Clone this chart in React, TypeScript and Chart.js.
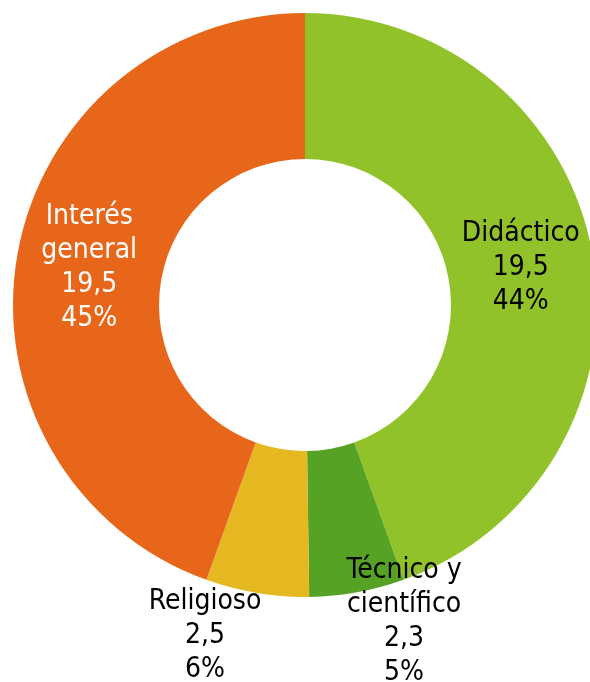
import React, { useEffect, useRef } from "react";
import { Chart, registerables } from "chart.js";

Chart.register(...registerables);

const categories: string[][] = [["Didáctico"], ["Técnico y", "científico"], ["Religioso"], ["Interés", "general"]];
const values: number[] = [19.5, 2.3, 2.5, 19.5];
const valueLabels: string[] = ["19,5", "2,3", "2,5", "19,5"];
const percentLabels: string[] = ["44%", "5%", "6%", "45%"];
const colors: string[] = ["#92C22A", "#55A225", "#E5B821", "#E8661A"];
const textColors: string[] = ["#000000", "#000000", "#000000", "#FFFFFF"];

// label placement: inside at mid ring, or outside with an offset from the outer arc midpoint
const placements = [
  { inside: true, dx: 0, dy: 0 },
  { inside: false, dx: 47, dy: 29 },
  { inside: false, dx: -52, dy: 43 },
  { inside: true, dx: 0, dy: 0 },
];

const labelPlugin = {
  id: "sliceLabels",
  afterDatasetsDraw(chart: any) {
    const ctx = chart.ctx;
    const meta = chart.getDatasetMeta(0);
    const fontSize = 28;
    const lineH = 34;
    ctx.save();
    ctx.font = `${fontSize}px "DejaVu Sans Condensed", "DejaVu Sans", sans-serif`;
    ctx.textAlign = "center";
    ctx.textBaseline = "middle";
    meta.data.forEach((arc: any, i: number) => {
      const p = arc.getProps(["x", "y", "startAngle", "endAngle", "innerRadius", "outerRadius"], true);
      const mid = (p.startAngle + p.endAngle) / 2;
      const pl = placements[i];
      let cx: number, cy: number;
      if (pl.inside) {
        const r = (p.innerRadius + p.outerRadius) / 2;
        cx = p.x + Math.cos(mid) * r;
        cy = p.y + Math.sin(mid) * r;
      } else {
        cx = p.x + Math.cos(mid) * p.outerRadius + pl.dx;
        cy = p.y + Math.sin(mid) * p.outerRadius + pl.dy;
      }
      const lines = [...categories[i], valueLabels[i], percentLabels[i]];
      const top = cy - ((lines.length - 1) * lineH) / 2;
      ctx.fillStyle = textColors[i];
      lines.forEach((t, k) => ctx.fillText(t, cx, top + k * lineH));
    });
    ctx.restore();
  },
};

export default function App() {
  const ref = useRef<HTMLCanvasElement | null>(null);
  useEffect(() => {
    if (!ref.current) return;
    const chart = new Chart(ref.current, {
      type: "doughnut",
      data: {
        labels: categories.map((c) => c.join(" ")),
        datasets: [
          {
            data: values,
            backgroundColor: colors,
            borderWidth: 0,
          },
        ],
      },
      options: {
        responsive: false,
        animation: false,
        cutout: "50%",
        layout: { padding: { left: 13, top: 13, right: 13, bottom: 85 } },
        plugins: { legend: { display: false }, tooltip: { enabled: false } },
      },
      plugins: [labelPlugin],
    });
    return () => chart.destroy();
  }, []);
  return (
    <div style={{ position: "absolute", left: 0, top: 0, width: 590, height: 682, overflow: "hidden", background: "#fff" }}>
      <canvas ref={ref} width={610} height={682} style={{ display: "block" }} />
    </div>
  );
}
